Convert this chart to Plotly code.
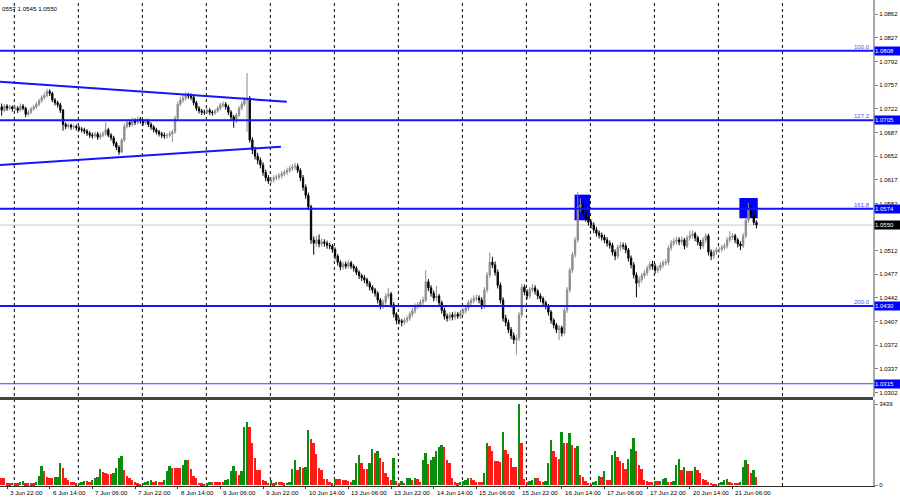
import plotly.graph_objects as go

# ---------------- data (EURUSD H1), bar index 0 = "3 Jun 22:00" ----------------
first_index = -2
first_open = 1.0725
closes = [
    1.0720, 1.0726, 1.0723, 1.0725, 1.0722, 1.0723, 1.0720, 1.0726, 1.0723, 1.0714,
    1.0717, 1.0722, 1.0725, 1.0729, 1.0734, 1.0739, 1.0742, 1.0748, 1.0745, 1.0735,
    1.0731, 1.0728, 1.0720, 1.0699, 1.0696, 1.0698, 1.0695, 1.0696, 1.0694, 1.0692,
    1.0691, 1.0689, 1.0686, 1.0683, 1.0682, 1.0685, 1.0680, 1.0683, 1.0685, 1.0691,
    1.0683, 1.0679, 1.0671, 1.0665, 1.0658, 1.0676, 1.0696, 1.0702, 1.0699, 1.0705,
    1.0702, 1.0707, 1.0704, 1.0701, 1.0705, 1.0699, 1.0695, 1.0691, 1.0688, 1.0685,
    1.0683, 1.0682, 1.0683, 1.0685, 1.0688, 1.0708, 1.0729, 1.0735, 1.0738, 1.0742,
    1.0741, 1.0739, 1.0731, 1.0723, 1.0719, 1.0717, 1.0717, 1.0720, 1.0717, 1.0716,
    1.0719, 1.0723, 1.0728, 1.0729, 1.0725, 1.0717, 1.0710, 1.0705, 1.0713, 1.0723,
    1.0729, 1.0735, 1.0738, 1.0676, 1.0661, 1.0652, 1.0646, 1.0639, 1.0628, 1.0620,
    1.0615, 1.0617, 1.0620, 1.0621, 1.0623, 1.0626, 1.0628, 1.0631, 1.0634, 1.0636,
    1.0637, 1.0631, 1.0620, 1.0606, 1.0594, 1.0577, 1.0528, 1.0523, 1.0528, 1.0522,
    1.0525, 1.0523, 1.0520, 1.0519, 1.0514, 1.0504, 1.0495, 1.0488, 1.0492, 1.0489,
    1.0494, 1.0489, 1.0486, 1.0480, 1.0475, 1.0472, 1.0469, 1.0464, 1.0458, 1.0454,
    1.0449, 1.0439, 1.0430, 1.0436, 1.0445, 1.0448, 1.0432, 1.0418, 1.0409, 1.0408,
    1.0406, 1.0409, 1.0412, 1.0418, 1.0423, 1.0430, 1.0432, 1.0436, 1.0439, 1.0466,
    1.0457, 1.0449, 1.0442, 1.0445, 1.0435, 1.0424, 1.0415, 1.0412, 1.0417, 1.0414,
    1.0418, 1.0415, 1.0420, 1.0423, 1.0427, 1.0435, 1.0438, 1.0441, 1.0442, 1.0439,
    1.0429, 1.0454, 1.0476, 1.0495, 1.0491, 1.0480, 1.0461, 1.0439, 1.0412, 1.0406,
    1.0395, 1.0386, 1.0380, 1.0383, 1.0417, 1.0458, 1.0451, 1.0445, 1.0454, 1.0457,
    1.0452, 1.0445, 1.0441, 1.0435, 1.0430, 1.0421, 1.0409, 1.0402, 1.0395, 1.0398,
    1.0390, 1.0424, 1.0454, 1.0483, 1.0506, 1.0528, 1.0577, 1.0580, 1.0569, 1.0560,
    1.0554, 1.0550, 1.0543, 1.0538, 1.0535, 1.0532, 1.0528, 1.0523, 1.0520, 1.0510,
    1.0504, 1.0517, 1.0520, 1.0519, 1.0513, 1.0501, 1.0491, 1.0476, 1.0464, 1.0469,
    1.0475, 1.0479, 1.0486, 1.0492, 1.0489, 1.0483, 1.0486, 1.0491, 1.0494, 1.0495,
    1.0516, 1.0523, 1.0526, 1.0528, 1.0525, 1.0528, 1.0519, 1.0531, 1.0534, 1.0537,
    1.0531, 1.0525, 1.0519, 1.0528, 1.0534, 1.0510, 1.0504, 1.0510, 1.0513, 1.0514,
    1.0517, 1.0519, 1.0528, 1.0532, 1.0534, 1.0528, 1.0522, 1.0519, 1.0534, 1.0557,
    1.0572, 1.0566, 1.0554, 1.0550,
]
highs = [
    1.0730, 1.0729, 1.0729, 1.0728, 1.0727, 1.0727, 1.0726, 1.0730, 1.0729, 1.0725,
    1.0721, 1.0725, 1.0728, 1.0732, 1.0737, 1.0742, 1.0746, 1.0752, 1.0751, 1.0747,
    1.0738, 1.0734, 1.0731, 1.0722, 1.0702, 1.0701, 1.0700, 1.0699, 1.0699, 1.0697,
    1.0695, 1.0694, 1.0692, 1.0689, 1.0687, 1.0688, 1.0688, 1.0687, 1.0689, 1.0702,
    1.0694, 1.0686, 1.0682, 1.0674, 1.0668, 1.0679, 1.0700, 1.0707, 1.0706, 1.0709,
    1.0708, 1.0711, 1.0710, 1.0707, 1.0708, 1.0707, 1.0702, 1.0698, 1.0694, 1.0691,
    1.0688, 1.0687, 1.0686, 1.0689, 1.0691, 1.0712, 1.0733, 1.0740, 1.0743, 1.0747,
    1.0746, 1.0745, 1.0742, 1.0734, 1.0726, 1.0722, 1.0721, 1.0723, 1.0723, 1.0720,
    1.0722, 1.0726, 1.0731, 1.0733, 1.0732, 1.0728, 1.0720, 1.0713, 1.0716, 1.0726,
    1.0733, 1.0739, 1.0775, 1.0741, 1.0680, 1.0666, 1.0657, 1.0650, 1.0643, 1.0632,
    1.0624, 1.0621, 1.0624, 1.0625, 1.0627, 1.0630, 1.0632, 1.0635, 1.0638, 1.0640,
    1.0642, 1.0641, 1.0634, 1.0624, 1.0610, 1.0598, 1.0580, 1.0533, 1.0534, 1.0536,
    1.0530, 1.0529, 1.0527, 1.0524, 1.0522, 1.0517, 1.0507, 1.0498, 1.0496, 1.0496,
    1.0498, 1.0497, 1.0492, 1.0489, 1.0483, 1.0478, 1.0476, 1.0472, 1.0467, 1.0461,
    1.0457, 1.0452, 1.0442, 1.0440, 1.0449, 1.0457, 1.0451, 1.0436, 1.0421, 1.0413,
    1.0411, 1.0413, 1.0416, 1.0422, 1.0427, 1.0434, 1.0436, 1.0440, 1.0444, 1.0483,
    1.0470, 1.0461, 1.0453, 1.0460, 1.0448, 1.0438, 1.0428, 1.0419, 1.0421, 1.0421,
    1.0422, 1.0421, 1.0424, 1.0427, 1.0431, 1.0439, 1.0442, 1.0446, 1.0447, 1.0446,
    1.0443, 1.0458, 1.0480, 1.0509, 1.0503, 1.0496, 1.0484, 1.0465, 1.0443, 1.0417,
    1.0410, 1.0399, 1.0391, 1.0388, 1.0421, 1.0463, 1.0462, 1.0455, 1.0458, 1.0463,
    1.0461, 1.0455, 1.0449, 1.0444, 1.0438, 1.0433, 1.0424, 1.0412, 1.0405, 1.0402,
    1.0401, 1.0428, 1.0458, 1.0487, 1.0510, 1.0532, 1.0599, 1.0590, 1.0586, 1.0573,
    1.0564, 1.0558, 1.0554, 1.0547, 1.0542, 1.0539, 1.0536, 1.0532, 1.0527, 1.0524,
    1.0514, 1.0521, 1.0525, 1.0524, 1.0523, 1.0516, 1.0505, 1.0495, 1.0480, 1.0474,
    1.0479, 1.0483, 1.0490, 1.0496, 1.0497, 1.0493, 1.0490, 1.0495, 1.0498, 1.0500,
    1.0520, 1.0528, 1.0531, 1.0533, 1.0532, 1.0533, 1.0531, 1.0535, 1.0541, 1.0542,
    1.0540, 1.0534, 1.0528, 1.0532, 1.0538, 1.0537, 1.0514, 1.0514, 1.0517, 1.0518,
    1.0521, 1.0523, 1.0532, 1.0541, 1.0538, 1.0537, 1.0531, 1.0526, 1.0538, 1.0561,
    1.0583, 1.0579, 1.0570, 1.0557,
]
lows = [
    1.0712, 1.0717, 1.0719, 1.0720, 1.0718, 1.0719, 1.0716, 1.0718, 1.0720, 1.0710,
    1.0711, 1.0714, 1.0719, 1.0722, 1.0726, 1.0731, 1.0736, 1.0739, 1.0741, 1.0732,
    1.0727, 1.0724, 1.0716, 1.0690, 1.0692, 1.0693, 1.0691, 1.0692, 1.0690, 1.0689,
    1.0687, 1.0685, 1.0682, 1.0679, 1.0678, 1.0679, 1.0676, 1.0677, 1.0680, 1.0682,
    1.0680, 1.0675, 1.0667, 1.0661, 1.0654, 1.0656, 1.0673, 1.0693, 1.0695, 1.0696,
    1.0698, 1.0699, 1.0700, 1.0697, 1.0698, 1.0695, 1.0691, 1.0687, 1.0684, 1.0681,
    1.0679, 1.0678, 1.0678, 1.0680, 1.0673, 1.0685, 1.0705, 1.0726, 1.0731, 1.0734,
    1.0737, 1.0735, 1.0727, 1.0719, 1.0715, 1.0713, 1.0713, 1.0714, 1.0713, 1.0712,
    1.0713, 1.0716, 1.0720, 1.0724, 1.0721, 1.0713, 1.0706, 1.0694, 1.0701, 1.0710,
    1.0720, 1.0726, 1.0688, 1.0672, 1.0655, 1.0647, 1.0640, 1.0634, 1.0623, 1.0615,
    1.0611, 1.0611, 1.0613, 1.0616, 1.0617, 1.0619, 1.0622, 1.0624, 1.0627, 1.0630,
    1.0632, 1.0627, 1.0615, 1.0601, 1.0589, 1.0572, 1.0522, 1.0506, 1.0518, 1.0517,
    1.0518, 1.0518, 1.0515, 1.0514, 1.0509, 1.0499, 1.0490, 1.0483, 1.0484, 1.0485,
    1.0486, 1.0485, 1.0481, 1.0476, 1.0470, 1.0467, 1.0464, 1.0459, 1.0453, 1.0449,
    1.0444, 1.0434, 1.0425, 1.0426, 1.0432, 1.0441, 1.0428, 1.0413, 1.0403, 1.0403,
    1.0400, 1.0402, 1.0405, 1.0408, 1.0414, 1.0419, 1.0426, 1.0428, 1.0432, 1.0436,
    1.0452, 1.0444, 1.0437, 1.0438, 1.0430, 1.0419, 1.0410, 1.0407, 1.0408, 1.0409,
    1.0410, 1.0411, 1.0411, 1.0416, 1.0419, 1.0423, 1.0431, 1.0434, 1.0437, 1.0434,
    1.0425, 1.0426, 1.0450, 1.0472, 1.0486, 1.0475, 1.0456, 1.0434, 1.0407, 1.0400,
    1.0390, 1.0381, 1.0374, 1.0358, 1.0378, 1.0413, 1.0446, 1.0440, 1.0441, 1.0450,
    1.0447, 1.0440, 1.0436, 1.0430, 1.0425, 1.0416, 1.0404, 1.0397, 1.0390, 1.0380,
    1.0385, 1.0387, 1.0420, 1.0450, 1.0479, 1.0502, 1.0524, 1.0570, 1.0564, 1.0555,
    1.0549, 1.0545, 1.0538, 1.0533, 1.0530, 1.0527, 1.0523, 1.0518, 1.0515, 1.0505,
    1.0498, 1.0500, 1.0512, 1.0514, 1.0508, 1.0496, 1.0486, 1.0471, 1.0443, 1.0458,
    1.0465, 1.0471, 1.0475, 1.0482, 1.0484, 1.0478, 1.0479, 1.0482, 1.0487, 1.0490,
    1.0491, 1.0512, 1.0519, 1.0521, 1.0520, 1.0521, 1.0514, 1.0516, 1.0527, 1.0530,
    1.0526, 1.0520, 1.0514, 1.0515, 1.0524, 1.0505, 1.0498, 1.0500, 1.0506, 1.0509,
    1.0510, 1.0513, 1.0515, 1.0524, 1.0528, 1.0523, 1.0517, 1.0513, 1.0516, 1.0530,
    1.0553, 1.0561, 1.0550, 1.0545,
]
volumes = [
    280, 280, 70, 70, 100, 80, 70, 140, 170, 80,
    80, 80, 80, 150, 390, 820, 580, 350, 320, 280,
    330, 360, 920, 740, 280, 210, 140, 110, 80, 100,
    140, 170, 170, 140, 210, 280, 360, 670, 570, 520,
    470, 450, 500, 710, 1130, 1230, 640, 390, 280, 210,
    140, 70, 50, 100, 140, 180, 210, 140, 170, 110,
    110, 210, 580, 820, 710, 710, 710, 710, 850, 1060,
    1060, 670, 390, 320, 100, 70, 50, 70, 110, 110,
    110, 110, 110, 110, 210, 240, 610, 820, 580, 430,
    610, 2480, 2690, 2480, 1800, 1130, 640, 640, 210, 180,
    100, 210, 80, 110, 110, 110, 80, 100, 140, 670,
    1060, 640, 750, 710, 750, 2340, 1940, 1800, 1320, 710,
    640, 240, 240, 140, 70, 270, 270, 270, 210, 210,
    170, 130, 210, 920, 1280, 950, 670, 670, 950, 1520,
    1370, 1460, 1130, 990, 520, 350, 210, 1130, 170, 70,
    170, 100, 280, 300, 210, 280, 240, 140, 1060, 1350,
    880, 1060, 1180, 1460, 1600, 1690, 1600, 1060, 920, 280,
    140, 70, 140, 170, 210, 280, 280, 210, 140, 140,
    140, 500, 1770, 1670, 1450, 1030, 1030, 990, 2240, 1490,
    1320, 1130, 760, 750, 3439, 1800, 250, 110, 170, 210,
    280, 280, 170, 140, 170, 920, 1910, 1450, 1180, 1110,
    2240, 1800, 1790, 2200, 1690, 1570, 1640, 430, 350, 180,
    100, 50, 140, 170, 400, 350, 610, 210, 210, 1280,
    1460, 1200, 1030, 920, 670, 1090, 1540, 1990, 1450, 850,
    670, 210, 170, 140, 110, 170, 170, 180, 250, 280,
    140, 140, 170, 850, 1090, 640, 750, 600, 600, 610,
    780, 640, 500, 270, 210, 140, 100, 50, 50, 100,
    140, 210, 240, 130, 100, 100, 100, 110, 750, 1060,
    900, 500, 640, 350,
]
assert len(closes) == len(highs) == len(lows) == len(volumes)

time_labels = ["3 Jun 22:00", "6 Jun 14:00", "7 Jun 06:00", "7 Jun 22:00", "8 Jun 14:00",
               "9 Jun 06:00", "9 Jun 22:00", "10 Jun 14:00", "13 Jun 06:00", "13 Jun 22:00",
               "14 Jun 14:00", "15 Jun 06:00", "15 Jun 22:00", "16 Jun 14:00", "17 Jun 06:00",
               "17 Jun 22:00", "20 Jun 14:00", "21 Jun 06:00"]
bars_per_label = 16
grid_first = 2.74
bars_per_grid = 24
grid_count = 13

# 1.0547 sits under the current-price box, so its text is not shown
price_ticks = [1.0862, 1.0827, 1.0792, 1.0757, 1.0722, 1.0687, 1.0652, 1.0617, 1.0582,
               1.0547, 1.0512, 1.0477, 1.0442, 1.0407, 1.0372, 1.0337, 1.0302]
hidden_ticks = [1.0547]
fib_levels = [1.0808, 1.0705, 1.0574, 1.0430, 1.0315]
fib_names = ["100.0", "127.2", "161.8", "200.0", ""]
last_price = 1.0550
volume_max = 3439
header_text = "0557 1.0545 1.0550"

trend_upper_x = [-2.6, 104.9]
trend_upper_y = [1.07622, 1.07326]
trend_lower_x = [-2.6, 102.7]
trend_lower_y = [1.06389, 1.06660]
zone_x = [(212.8, 218.6), (274.6, 281.5)]
zone_y = [(1.0557, 1.0595), (1.0560, 1.0590)]

# ---------------- build ----------------
n = len(closes)
xs = list(range(first_index, first_index + n))
opens = [first_open] + closes[:-1]
vol_colors = ["#ff1a1a"] + ["#0c8c0c" if volumes[k] > volumes[k - 1] else "#ff1a1a" for k in range(1, n)]

X_RANGE = [-2.625, 324.7]
XD = [0, 873 / 900]
BLUE = "#1414ff"
FONT = "Liberation Sans"

fig = go.Figure()
fig.add_trace(go.Candlestick(
    x=xs, open=opens, high=highs, low=lows, close=closes,
    increasing=dict(line=dict(color="#8c8c8c", width=1), fillcolor="#8c8c8c"),
    decreasing=dict(line=dict(color="#000000", width=1), fillcolor="#000000"),
    whiskerwidth=0, xaxis="x", yaxis="y", hoverinfo="skip"))
fig.add_trace(go.Scatter(x=trend_upper_x, y=trend_upper_y, mode="lines",
                         line=dict(color=BLUE, width=2), xaxis="x", yaxis="y", hoverinfo="skip"))
fig.add_trace(go.Scatter(x=trend_lower_x, y=trend_lower_y, mode="lines",
                         line=dict(color=BLUE, width=2), xaxis="x", yaxis="y", hoverinfo="skip"))
fig.add_trace(go.Bar(x=xs, y=volumes, marker=dict(color=vol_colors, line=dict(width=0)),
                     width=0.72, xaxis="x2", yaxis="y2", hoverinfo="skip"))

shapes = []
for k in range(grid_count):
    gx = grid_first + bars_per_grid * k
    shapes.append(dict(type="line", xref="x", yref="paper", x0=gx, x1=gx, y0=0.028, y1=1,
                       line=dict(color="#000000", width=1, dash="3px,3px"), layer="below"))
for (x0, x1), (y0, y1) in zip(zone_x, zone_y):
    shapes.append(dict(type="rect", xref="x", yref="y", x0=x0, x1=x1, y0=y0, y1=y1,
                       fillcolor="#0000ff", line=dict(width=0), layer="below"))
shapes.append(dict(type="line", xref="paper", yref="y", x0=0, x1=XD[1], y0=last_price, y1=last_price,
                   line=dict(color="#c8c8c8", width=1), layer="below"))
for lv, nm in zip(fib_levels, fib_names):
    shapes.append(dict(type="line", xref="paper", yref="y", x0=0, x1=XD[1], y0=lv, y1=lv,
                       line=dict(color=BLUE if nm else "#3c3cff", width=2 if nm else 1)))
shapes.append(dict(type="line", xref="paper", yref="paper", x0=0, x1=XD[1], y0=1 - 398.5 / 500, y1=1 - 398.5 / 500,
                   line=dict(color="#454545", width=3)))

annotations = []
for j, lab in enumerate(time_labels):
    annotations.append(dict(x=j * bars_per_label, y=1 - 492 / 500, xref="x2", yref="paper",
                            text=lab, showarrow=False, xanchor="left", yanchor="middle", xshift=1,
                            font=dict(family=FONT, size=6.2, color="#000000")))
for lv, nm in zip(fib_levels, fib_names):
    annotations.append(dict(x=874 / 900, y=lv, xref="paper", yref="y", text="%.4f" % lv,
                            showarrow=False, xanchor="left", yanchor="middle", width=25, height=8,
                            bgcolor="#0000ff", borderpad=0, align="left",
                            font=dict(family=FONT, size=6, color="#ffffff")))
    if nm:
        annotations.append(dict(x=872 / 900, y=lv, xref="paper", yref="y", text=nm,
                                showarrow=False, xanchor="right", yanchor="bottom", yshift=-1,
                                font=dict(family=FONT, size=6, color="#5050ff")))
annotations.append(dict(x=874 / 900, y=last_price, xref="paper", yref="y", text="%.4f" % last_price,
                        showarrow=False, xanchor="left", yanchor="middle", width=25, height=8,
                        bgcolor="#000000", borderpad=0, align="left",
                        font=dict(family=FONT, size=6, color="#ffffff")))
annotations.append(dict(x=0, y=1, xref="paper", yref="paper", text=header_text, showarrow=False,
                        xanchor="left", yanchor="top", yshift=-3,
                        font=dict(family=FONT, size=6.2, color="#000000")))

fig.update_layout(
    width=900, height=500, margin=dict(l=0, r=0, t=0, b=0, autoexpand=False),
    paper_bgcolor="#ffffff", plot_bgcolor="#ffffff",
    showlegend=False, hovermode=False, bargap=0,
    font=dict(family=FONT, size=6, color="#000000"),
    shapes=shapes, annotations=annotations,
    xaxis=dict(domain=XD, range=X_RANGE, anchor="y", showgrid=False, zeroline=False,
               showticklabels=False, rangeslider=dict(visible=False), showline=False, ticks=""),
    xaxis2=dict(domain=XD, range=X_RANGE, anchor="y2", matches="x", showgrid=False, zeroline=False,
                tickvals=[j * bars_per_label for j in range(len(time_labels))], showticklabels=False,
                ticks="outside", ticklen=2, tickcolor="#303030",
                showline=True, linecolor="#303030", linewidth=1),
    yaxis=dict(domain=[1 - 397 / 500, 1], range=[1.02954, 1.08832], side="right", anchor="x",
               tickvals=price_ticks,
               ticktext=["" if t in hidden_ticks else "%.4f" % t for t in price_ticks],
               ticks="outside", ticklen=3, tickcolor="#808080",
               showgrid=False, zeroline=False, showline=True, linecolor="#a8a8a8", linewidth=2,
               tickfont=dict(family=FONT, size=6, color="#000000")),
    yaxis2=dict(domain=[1 - 486 / 500, 1 - 400 / 500], range=[-40, 3610], side="right", anchor="x2",
                tickvals=[0, volume_max], ticktext=["0", str(volume_max)],
                ticks="outside", ticklen=3, tickcolor="#808080",
                showgrid=False, zeroline=False, showline=True, linecolor="#a8a8a8", linewidth=2,
                tickfont=dict(family=FONT, size=6, color="#000000")),
)

fig.write_html("out.html", config={"displayModeBar": False},
               post_script="document.body.style.margin='0';document.body.style.padding='0';"
                           "document.body.style.overflow='hidden';")
